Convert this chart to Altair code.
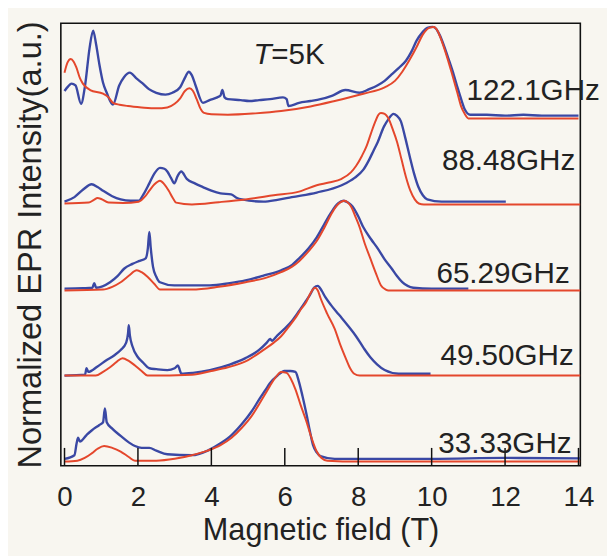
import altair as alt
import pandas as pd

# ---- data (field in T, normalized intensity) ----
freq_names = ["122.1GHz", "88.48GHz", "65.29GHz", "49.50GHz", "33.33GHz"]
offsets = [3.76, 2.82, 1.88, 0.94, 0.0]

exp_1221 = [(0, 0.29), (0.1, 0.34), (0.19, 0.37), (0.3, 0.35), (0.45, 0.15), (0.56, 0.35), (0.68, 0.75),
            (0.78, 0.95), (0.86, 0.8), (0.95, 0.58), (1.05, 0.38), (1.15, 0.27), (1.32, 0.14), (1.49, 0.35),
            (1.62, 0.44), (1.78, 0.49), (1.95, 0.43), (2.12, 0.375), (2.3, 0.31), (2.5, 0.27), (2.75, 0.25),
            (2.94, 0.27), (3.15, 0.33), (3.3, 0.45), (3.38, 0.50), (3.47, 0.46), (3.57, 0.35), (3.77, 0.16),
            (3.95, 0.19), (4.16, 0.22), (4.25, 0.24), (4.3, 0.30), (4.36, 0.22), (4.45, 0.20), (4.8, 0.19),
            (5.03, 0.18), (5.3, 0.19), (5.6, 0.20), (5.95, 0.22), (6.05, 0.2), (6.1, 0.125), (6.39, 0.16),
            (6.7, 0.18), (6.97, 0.20), (7.3, 0.24), (7.65, 0.30), (8.04, 0.27), (8.3, 0.31), (8.52, 0.35),
            (8.72, 0.40), (8.91, 0.47), (9.1, 0.54), (9.3, 0.62), (9.45, 0.72), (9.59, 0.84), (9.75, 0.93),
            (9.88, 0.98), (10.03, 0.99), (10.12, 0.97), (10.22, 0.90), (10.34, 0.78), (10.46, 0.64),
            (10.6, 0.47), (10.71, 0.32), (10.82, 0.18), (10.9, 0.09), (11.05, 0.03), (11.5, 0.03),
            (12.0, 0.02), (12.5, 0.03), (13.0, 0.02), (13.5, 0.02), (14.0, 0.02)]
sim_1221 = [(0, 0.49), (0.08, 0.6), (0.17, 0.64), (0.25, 0.61), (0.32, 0.55), (0.42, 0.43), (0.5, 0.37),
            (0.7, 0.30), (1.05, 0.26), (1.2, 0.22), (1.32, 0.16), (1.5, 0.14), (1.73, 0.125), (2.1, 0.11),
            (2.5, 0.10), (2.8, 0.11), (3.0, 0.15), (3.15, 0.21), (3.28, 0.29), (3.4, 0.32), (3.5, 0.29),
            (3.6, 0.2), (3.7, 0.1), (3.8, 0.05), (4.0, 0.035), (4.45, 0.03), (5.2, 0.045), (5.9, 0.07),
            (6.7, 0.12), (7.36, 0.18), (8.14, 0.26), (8.72, 0.33), (9.0, 0.40), (9.2, 0.50), (9.4, 0.63),
            (9.59, 0.77), (9.75, 0.9), (9.93, 0.98), (10.06, 0.99), (10.17, 0.94), (10.27, 0.84),
            (10.42, 0.66), (10.56, 0.47), (10.7, 0.27), (10.8, 0.125), (10.9, 0.04), (11.0, -0.01),
            (14.0, -0.01)]

exp_8848 = [(0, 0.02), (0.27, 0.07), (0.5, 0.15), (0.74, 0.21), (0.9, 0.18), (1.05, 0.14), (1.3, 0.08),
            (1.53, 0.045), (1.8, 0.03), (2.02, 0.03), (2.15, 0.1), (2.31, 0.22), (2.45, 0.33), (2.6, 0.39),
            (2.72, 0.38), (2.8, 0.35), (2.9, 0.28), (2.99, 0.22), (3.08, 0.3), (3.18, 0.35), (3.33, 0.27),
            (3.55, 0.22), (3.77, 0.18), (4.0, 0.14), (4.25, 0.11), (4.54, 0.10), (4.7, 0.06), (4.83, 0.045),
            (5.42, 0.02), (5.8, 0.04), (6.19, 0.07), (6.87, 0.12), (7.55, 0.20), (7.9, 0.28), (8.14, 0.37),
            (8.3, 0.48), (8.42, 0.58), (8.53, 0.67), (8.7, 0.84), (8.82, 0.92), (8.96, 0.98), (9.05, 0.96),
            (9.16, 0.90), (9.28, 0.72), (9.4, 0.52), (9.52, 0.33), (9.64, 0.18), (9.76, 0.09),
            (9.88, 0.045), (10.27, 0.02), (12.02, 0.02)]
sim_8848 = [(0, 0.0), (0.66, 0.01), (0.8, 0.04), (0.9, 0.06), (1.0, 0.05), (1.2, 0.01), (1.6, 0.005),
            (2.02, 0.02), (2.2, 0.08), (2.31, 0.14), (2.45, 0.21), (2.6, 0.25), (2.72, 0.21), (2.84, 0.14),
            (2.95, 0.06), (3.04, 0.01), (3.47, -0.01), (4.2, 0.015), (4.93, 0.045), (5.7, 0.09), (6.39, 0.13),
            (6.87, 0.20), (7.2, 0.23), (7.55, 0.27), (7.8, 0.34), (7.94, 0.41), (8.1, 0.52), (8.23, 0.63),
            (8.35, 0.77), (8.47, 0.90), (8.55, 0.97), (8.62, 0.99), (8.72, 0.98), (8.81, 0.94), (8.95, 0.8),
            (9.06, 0.67), (9.18, 0.48), (9.3, 0.29), (9.42, 0.14), (9.54, 0.045), (9.65, 0.0), (9.79, -0.01),
            (14.05, -0.01)]

exp_6529 = [(0, 0.01), (0.5, 0.015), (0.76, 0.02), (0.81, 0.07), (0.86, 0.02), (1.24, 0.08), (1.45, 0.15),
            (1.63, 0.23), (1.85, 0.28), (2.02, 0.31), (2.21, 0.34), (2.27, 0.45), (2.31, 0.63), (2.35, 0.45),
            (2.41, 0.25), (2.5, 0.14), (2.6, 0.08), (2.99, 0.045), (3.96, 0.045), (4.5, 0.07), (4.93, 0.10),
            (5.4, 0.15), (5.9, 0.21), (6.2, 0.27), (6.39, 0.34), (6.65, 0.45), (6.87, 0.57), (7.07, 0.71),
            (7.26, 0.84), (7.45, 0.94), (7.6, 0.97), (7.72, 0.95), (7.84, 0.91), (8.0, 0.8), (8.14, 0.68),
            (8.35, 0.55), (8.53, 0.45), (8.72, 0.33), (8.91, 0.23), (9.05, 0.15), (9.2, 0.08), (9.5, 0.02),
            (10.0, 0.01), (11.0, 0.01)]
sim_6529 = [(0, -0.01), (1.05, 0.0), (1.3, 0.03), (1.53, 0.08), (1.75, 0.15), (1.97, 0.21), (2.1, 0.19),
            (2.26, 0.14), (2.45, 0.06), (2.6, 0.0), (3.47, 0.0), (4.2, 0.03), (4.93, 0.08), (5.5, 0.13),
            (5.9, 0.19), (6.2, 0.25), (6.39, 0.31), (6.65, 0.42), (6.87, 0.53), (7.07, 0.67), (7.26, 0.82),
            (7.4, 0.91), (7.5, 0.95), (7.63, 0.97), (7.72, 0.95), (7.8, 0.91), (7.92, 0.8), (8.04, 0.68),
            (8.18, 0.5), (8.33, 0.34), (8.48, 0.18), (8.62, 0.045), (8.75, 0.0), (8.82, -0.01), (14.05, -0.01)]

exp_4950 = [(0, 0.0), (0.56, 0.01), (0.6, 0.08), (0.65, 0.04), (0.9, 0.1), (1.15, 0.17), (1.35, 0.22),
            (1.53, 0.28), (1.68, 0.36), (1.73, 0.46), (1.75, 0.55), (1.78, 0.44), (1.85, 0.32), (2.0, 0.2),
            (2.12, 0.15), (2.31, 0.08), (2.5, 0.07), (2.8, 0.06), (3.0, 0.08), (3.09, 0.11), (3.14, 0.06),
            (3.18, 0.02), (3.5, 0.03), (3.96, 0.06), (4.5, 0.12), (4.93, 0.19), (5.3, 0.28), (5.51, 0.36),
            (5.6, 0.40), (5.65, 0.38), (5.8, 0.44), (5.99, 0.51), (6.2, 0.6), (6.38, 0.70), (6.55, 0.80),
            (6.67, 0.87), (6.8, 0.96), (6.9, 0.98), (7.0, 0.93), (7.1, 0.86), (7.26, 0.77), (7.4, 0.7),
            (7.55, 0.63), (7.75, 0.53), (7.94, 0.43), (8.15, 0.3), (8.33, 0.20), (8.52, 0.12), (8.72, 0.06),
            (9.1, 0.02), (9.97, 0.02)]
sim_4950 = [(0, 0.0), (0.85, 0.0), (1.05, 0.04), (1.24, 0.09), (1.42, 0.15), (1.58, 0.19), (1.75, 0.16),
            (1.92, 0.11), (2.1, 0.05), (2.26, 0.0), (3.47, 0.01), (4.0, 0.05), (4.45, 0.09), (5.0, 0.17),
            (5.42, 0.28), (5.7, 0.36), (5.9, 0.43), (6.1, 0.53), (6.29, 0.63), (6.45, 0.73), (6.58, 0.80),
            (6.7, 0.9), (6.82, 0.96), (6.9, 0.93), (6.97, 0.85), (7.15, 0.68), (7.36, 0.51), (7.5, 0.35),
            (7.65, 0.2), (7.78, 0.08), (7.89, 0.02), (8.04, 0.0), (14.05, 0.0)]

exp_3333 = [(0, 0.03), (0.27, 0.07), (0.33, 0.2), (0.37, 0.26), (0.42, 0.22), (0.6, 0.29), (0.74, 0.34),
            (0.95, 0.4), (1.05, 0.43), (1.1, 0.58), (1.15, 0.43), (1.3, 0.36), (1.53, 0.28), (1.75, 0.21),
            (1.92, 0.17), (2.1, 0.15), (2.31, 0.15), (2.5, 0.12), (2.8, 0.08), (3.47, 0.07), (3.9, 0.12),
            (4.25, 0.2), (4.55, 0.29), (4.83, 0.41), (5.1, 0.55), (5.32, 0.69), (5.47, 0.78), (5.6, 0.86),
            (5.8, 0.94), (5.99, 0.99), (6.15, 0.99), (6.29, 0.98), (6.38, 0.88), (6.48, 0.72), (6.6, 0.5),
            (6.68, 0.34), (6.77, 0.18), (6.87, 0.1), (6.97, 0.06), (7.36, 0.03), (10.0, 0.03), (12.0, 0.04),
            (14.05, 0.035)]
sim_3333 = [(0, 0.0), (0.35, 0.01), (0.55, 0.04), (0.74, 0.09), (0.9, 0.14), (1.08, 0.17), (1.3, 0.15),
            (1.53, 0.11), (1.75, 0.05), (1.92, 0.01), (2.5, 0.01), (3.0, 0.03), (3.47, 0.07), (3.9, 0.12),
            (4.25, 0.18), (4.55, 0.26), (4.83, 0.37), (5.1, 0.5), (5.32, 0.64), (5.47, 0.74), (5.6, 0.83),
            (5.75, 0.92), (5.9, 0.98), (6.05, 0.97), (6.17, 0.9), (6.29, 0.79), (6.43, 0.62), (6.58, 0.45),
            (6.72, 0.27), (6.87, 0.11), (7.0, 0.04), (7.16, 0.01), (8.0, 0.0), (14.05, 0.0)]

exp_series = [exp_1221, exp_8848, exp_6529, exp_4950, exp_3333]
sim_series = [sim_1221, sim_8848, sim_6529, sim_4950, sim_3333]

# frequency labels: (x field, height above curve offset)
label_x = [10.95, 10.28, 10.13, 10.24, 10.18]
label_dy = [0.19, 0.37, 0.07, 0.12, 0.095]

x_ticks = [0, 2, 4, 6, 8, 10, 12, 14]

# ---- build tables ----
rows = []
for name, off, e, s in zip(freq_names, offsets, exp_series, sim_series):
    for i, (x, y) in enumerate(e):
        rows.append({"field": x, "intensity": off + y, "freq": name, "kind": "exp", "i": i})
    for i, (x, y) in enumerate(s):
        rows.append({"field": x, "intensity": off + y, "freq": name, "kind": "sim", "i": i})
df = pd.DataFrame(rows)

lab = pd.DataFrame({"field": label_x,
                    "intensity": [o + d for o, d in zip(offsets, label_dy)],
                    "text": freq_names})
ticks_df = pd.DataFrame({"field": x_ticks})

FONT = "Liberation Sans"
BLUE = "#3a48a4"
RED = "#e4472c"

xscale = alt.Scale(domain=[-0.1, 14.05], nice=False, zero=False)
yscale = alt.Scale(domain=[-0.045, 4.79], nice=False, zero=False)

xaxis = alt.Axis(values=x_ticks, title="Magnetic field (T)", ticks=False, domain=False, grid=False,
                 labelFontSize=28, labelPadding=18, titleFontSize=31, titlePadding=5,
                 labelFont=FONT, titleFont=FONT, titleFontWeight="normal",
                 labelColor="#222222", titleColor="#222222")
yaxis = alt.Axis(title="Normalized EPR Intensity(a.u.)", labels=False, ticks=False, domain=False, grid=False,
                 titleFontSize=33, titlePadding=14, titleFont=FONT, titleFontWeight="normal",
                 titleColor="#222222")

base = alt.Chart(df)
exp_layer = base.transform_filter(alt.datum.kind == "exp").mark_line(
    color=BLUE, strokeWidth=2.4, clip=True, interpolate="monotone").encode(
    x=alt.X("field:Q", scale=xscale, axis=xaxis),
    y=alt.Y("intensity:Q", scale=yscale, axis=yaxis),
    detail="freq:N", order="i:Q")
sim_layer = base.transform_filter(alt.datum.kind == "sim").mark_line(
    color=RED, strokeWidth=2.0, clip=True, interpolate="monotone").encode(
    x=alt.X("field:Q", scale=xscale),
    y=alt.Y("intensity:Q", scale=yscale),
    detail="freq:N", order="i:Q")

tick_layer = alt.Chart(ticks_df).mark_rule(color="#111111", strokeWidth=1.5).encode(
    x=alt.X("field:Q", scale=xscale), y=alt.value(448), y2=alt.value(430))

labels = alt.Chart(lab).mark_text(align="left", baseline="alphabetic", fontSize=30, font=FONT,
                                  color="#222222").encode(
    x=alt.X("field:Q", scale=xscale), y=alt.Y("intensity:Q", scale=yscale), text="text:N")

temp_df = pd.DataFrame({"field": [5.145], "intensity": [4.34]})
t_italic = alt.Chart(temp_df).mark_text(align="left", baseline="alphabetic", fontSize=30, font=FONT,
                                        fontStyle="italic", color="#222222", text="T").encode(
    x=alt.X("field:Q", scale=xscale), y=alt.Y("intensity:Q", scale=yscale))
t_rest = alt.Chart(temp_df).mark_text(align="left", baseline="alphabetic", fontSize=30, font=FONT,
                                      color="#222222", text="=5K", dx=18).encode(
    x=alt.X("field:Q", scale=xscale), y=alt.Y("intensity:Q", scale=yscale))

chart = alt.layer(exp_layer, sim_layer, tick_layer, labels, t_italic, t_rest).properties(
    width=526, height=448,
    autosize=alt.AutoSizeParams(type="none"),
    padding={"left": 53.5, "top": 12, "right": 27, "bottom": 88},
    background="#f8f6f0",
).configure_view(stroke="#111111", strokeWidth=1.6)

chart.save("out.html", embed_options={"renderer": "svg", "actions": False})
